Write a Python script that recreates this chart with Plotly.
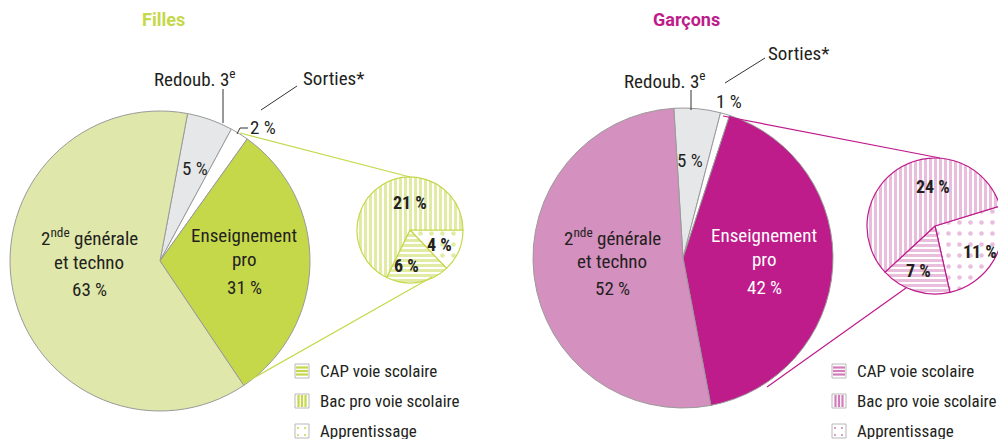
import plotly.graph_objects as go

W, H = 1006, 439
OFF = 8  # page body margin offset

# ---------------- data ----------------
main_labels = ["Redoub. 3e", "Sorties*", "Enseignement pro", "2nde générale et techno"]
filles_main = [5, 2, 31, 63]
garcons_main = [5, 1, 42, 52]

sub_labels = ["Apprentissage", "CAP voie scolaire", "Bac pro voie scolaire"]
filles_sub = [4, 6, 21]
garcons_sub = [11, 7, 24]

legend_labels = ["CAP voie scolaire", "Bac pro voie scolaire", "Apprentissage"]

# ---------------- styles ----------------
FONT = "Liberation Sans Narrow, Roboto Condensed, Roboto, sans-serif"
TFONT = "Roboto, Liberation Sans, sans-serif"
TXT = "#231f20"
G_DARK = "#c5d84a"
G_LIGHT = "#dfe8aa"
P_DARK = "#be1b8b"
P_LIGHT = "#d490bf"
P_PAT = "#d47cb9"
GRAY = "#e6e7e8"
EDGE = "#9a9a9a"


def px2x(x):
    return (x - OFF) / W


def px2y(y):
    return 1 - (y - OFF) / H


def dom(cx, cy, r):
    return dict(x=[px2x(cx - r), px2x(cx + r)], y=[px2y(cy + r), px2y(cy - r)])


fig = go.Figure()

# big pies
fig.add_trace(go.Pie(
    labels=main_labels, values=filles_main, sort=False, direction="clockwise",
    rotation=10.6, textinfo="none", hoverinfo="label+value", showlegend=False,
    marker=dict(colors=[GRAY, "white", G_DARK, G_LIGHT], line=dict(color=EDGE, width=1)),
    domain=dom(160, 261, 150),
))
fig.add_trace(go.Pie(
    labels=main_labels, values=garcons_main, sort=False, direction="clockwise",
    rotation=-3.5, textinfo="none", hoverinfo="label+value", showlegend=False,
    marker=dict(colors=[GRAY, "white", P_DARK, P_LIGHT], line=dict(color=EDGE, width=1)),
    domain=dom(683, 258, 150),
))

# small pies (patterned)
fig.add_trace(go.Pie(
    labels=sub_labels, values=filles_sub, sort=False, direction="clockwise",
    rotation=90, textinfo="none", hoverinfo="label+value", showlegend=False,
    marker=dict(colors=["white", "white", "white"], line=dict(color=G_DARK, width=1.2),
                pattern=dict(shape=[".", "-", "|"], fgcolor=G_DARK, bgcolor="white",
                             size=[11, 5, 5], solidity=[0.14, 0.6, 0.6], fillmode="overlay")),
    domain=dom(410, 230, 53),
))
fig.add_trace(go.Pie(
    labels=sub_labels, values=garcons_sub, sort=False, direction="clockwise",
    rotation=73, textinfo="none", hoverinfo="label+value", showlegend=False,
    marker=dict(colors=["white", "white", "white"], line=dict(color=P_DARK, width=1.2),
                pattern=dict(shape=[".", "-", "|"], fgcolor=P_PAT, bgcolor="white",
                             size=[11, 5, 5], solidity=[0.14, 0.6, 0.6], fillmode="overlay")),
    domain=dom(935, 226, 68),
))

ann = []


def text(x, y, s, size=19, color=TXT, bold=False, xanchor="center", family=FONT):
    if bold:
        s = "<b>" + s + "</b>"
    ann.append(dict(x=px2x(x), y=px2y(y), xref="paper", yref="paper", text=s,
                    showarrow=False, xanchor=xanchor, yanchor="middle",
                    font=dict(family=family, size=size, color=color)))


# titles
text(163, 20, "Filles", size=18, color=G_DARK, bold=True, family=TFONT)
text(686, 20, "Garçons", size=18, color=P_DARK, bold=True, family=TFONT)

# Filles big pie labels
text(89, 237, "2<sup>nde</sup> générale")
text(89, 262, "et techno")
text(89, 289, f"{filles_main[3]} %")
text(244, 235, "Enseignement")
text(244, 259, "pro")
text(244, 287, f"{filles_main[2]} %")
text(195, 168, f"{filles_main[0]} %")
text(195, 79, "Redoub. 3<sup>e</sup>")
text(333, 78, "Sorties*")
text(263, 127, f"{filles_main[1]} %")

# Garçons big pie labels
text(612, 237, "2<sup>nde</sup> générale")
text(612, 261, "et techno")
text(612, 288, f"{garcons_main[3]} %")
text(764, 235, "Enseignement", color="white")
text(764, 259, "pro", color="white")
text(764, 287, f"{garcons_main[2]} %", color="white")
text(690, 160, f"{garcons_main[0]} %")
text(665, 80, "Redoub. 3<sup>e</sup>")
text(798, 53, "Sorties*")
text(729, 101, f"{garcons_main[1]} %")

# small pie labels
text(410, 202, f"{filles_sub[2]} %", size=18, bold=True)
text(439, 244, f"{filles_sub[0]} %", size=18, bold=True)
text(406, 265, f"{filles_sub[1]} %", size=18, bold=True)
text(933, 186, f"{garcons_sub[2]} %", size=18, bold=True)
text(980, 251, f"{garcons_sub[0]} %", size=18, bold=True)
text(918, 270, f"{garcons_sub[1]} %", size=18, bold=True)

shapes = []


def line(x0, y0, x1, y1, color, width=1):
    shapes.append(dict(type="line", xref="paper", yref="paper",
                       x0=px2x(x0), y0=px2y(y0), x1=px2x(x1), y1=px2y(y1),
                       line=dict(color=color, width=width)))


# connectors
line(240, 133, 410, 177, G_DARK, 1.2)
line(243, 384, 432, 277, G_DARK, 1.2)
line(723, 116, 940, 158, P_DARK, 1.2)
line(767, 387, 906, 288, P_DARK, 1.2)

# leader lines
line(223, 89, 223, 123, "#333333", 1)
line(261, 110, 297, 86, "#333333", 1)
line(237, 134, 240, 128, "#333333", 1)
line(240, 128, 248, 128, "#333333", 1)
line(691, 90, 691, 110, "#333333", 1)
line(725, 83, 765, 58, "#333333", 1)


# legends
def legend(x_icon, color, light):
    rows = [371, 401, 431]
    for i, (lab, y) in enumerate(zip(legend_labels, rows)):
        x0, y0 = x_icon, y - 7
        shapes.append(dict(type="rect", xref="paper", yref="paper",
                           x0=px2x(x0), x1=px2x(x0 + 14), y0=px2y(y0 + 14), y1=px2y(y0),
                           line=dict(color=light, width=1), fillcolor="white"))
        if i == 0:
            for yy in (y0 + 3.5, y0 + 7, y0 + 10.5):
                line(x0 + 1, yy, x0 + 13, yy, color, 2.2)
        elif i == 1:
            for xx in (x0 + 3.5, x0 + 7, x0 + 10.5):
                line(xx, y0 + 1, xx, y0 + 13, color, 2.2)
        else:
            for (dx, dy) in ((3, 4), (10, 4), (3, 11), (10, 11)):
                shapes.append(dict(type="circle", xref="paper", yref="paper",
                                   x0=px2x(x0 + dx - 1), x1=px2x(x0 + dx + 1),
                                   y0=px2y(y0 + dy + 1), y1=px2y(y0 + dy - 1),
                                   line=dict(width=0), fillcolor=color))
        text(x_icon + 23, y, lab, size=17, xanchor="left")


legend(295, G_DARK, "#b8b8b8")
legend(832, P_PAT, "#b8b8b8")

fig.update_layout(
    width=W, height=H, autosize=False,
    margin=dict(l=0, r=0, t=0, b=0),
    paper_bgcolor="white", plot_bgcolor="white",
    annotations=ann, shapes=shapes, showlegend=False,
)

fig.write_html("out.html")
